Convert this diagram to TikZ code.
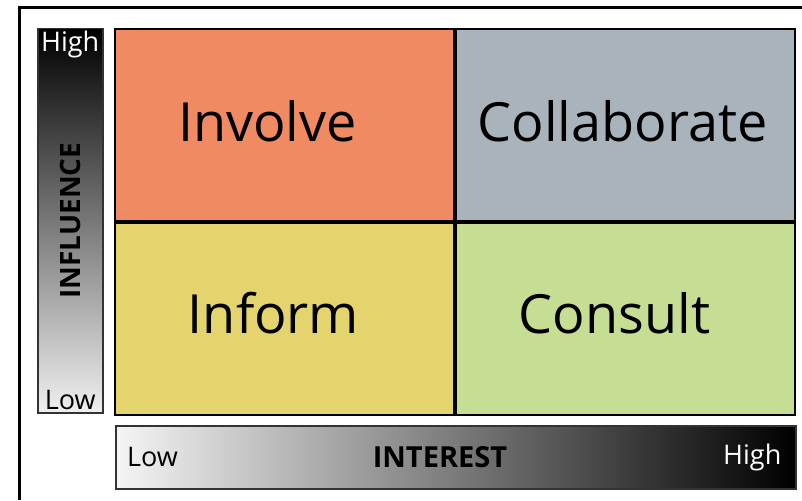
\documentclass[tikz,border=0pt]{standalone}
\usepackage{fontspec}
\setmainfont{Open Sans}
\usetikzlibrary{positioning}

\definecolor{involvecol}{HTML}{F08A62}
\definecolor{collabcol}{HTML}{A9B3BB}
\definecolor{informcol}{HTML}{E3D46E}
\definecolor{consultcol}{HTML}{C6DD94}

\begin{document}
\begin{tikzpicture}[x=1pt,y=-1pt,
    quad/.style={draw=black, line width=2pt, minimum width=339pt,
        minimum height=192pt, inner sep=0pt},
    quadtext/.style={font=\fontsize{54}{60}\selectfont, inner sep=0pt},
    bar/.style={draw=black!80, line width=1.5pt, inner sep=0pt},
    tick/.style={font=\fontsize{27}{30}\selectfont, inner sep=2pt}
    ]
    \useasboundingbox (0,0) rectangle (802,500);
    \fill[white] (0,0) rectangle (802,500);
    % outer frame (cut at the right and bottom)
    \draw[line width=3pt] (19,500) -- (19,8) -- (802,8);

    % the four quadrants
    \node[quad, fill=involvecol, anchor=north west] (involve) at (114,28) {};
    \node[quad, fill=collabcol, right=0pt of involve] (collab) {};
    \node[quad, fill=informcol, below=0pt of involve] (inform) {};
    \node[quad, fill=consultcol, below=0pt of collab] (consult) {};
    \node[quadtext] (involvetxt) at ([xshift=-17pt,yshift=4pt]involve.center) {Involve};
    \node[quadtext] (collabtxt) at ([xshift=-3pt,yshift=4pt]collab.center) {Collaborate};
    \node[quadtext] (informtxt) at ([xshift=-11pt,yshift=6pt]inform.center) {Inform};
    \node[quadtext] (consulttxt) at ([xshift=-11pt,yshift=6pt]consult.center) {Consult};

    % influence bar
    \node[bar, top color=black, bottom color=black!6, anchor=north west,
        minimum width=65pt, minimum height=384pt] (influence) at (37,28) {};
    \node[rotate=90, font=\bfseries\fontsize{28}{30}\selectfont] (inflabel)
        at (influence.center) {INFLUENCE};
    \node[tick, white, anchor=north] (infhigh) at ([yshift=-1pt]influence.north) {High};
    \node[tick, black, anchor=south] (inflow) at ([yshift=2pt]influence.south) {Low};

    % interest bar
    \node[bar, left color=black!4, right color=black, anchor=north west,
        minimum width=680pt, minimum height=63pt] (interest) at (115,425) {};
    \node[font=\bfseries\fontsize{29}{30}\selectfont] (intlabel)
        at (440,457) {INTEREST};
    \node[tick, black, anchor=west] (intlow) at ([xshift=10pt]interest.west) {Low};
    \node[tick, white, anchor=east] (inthigh) at ([xshift=-13pt]interest.east) {High};
\end{tikzpicture}
\end{document}
